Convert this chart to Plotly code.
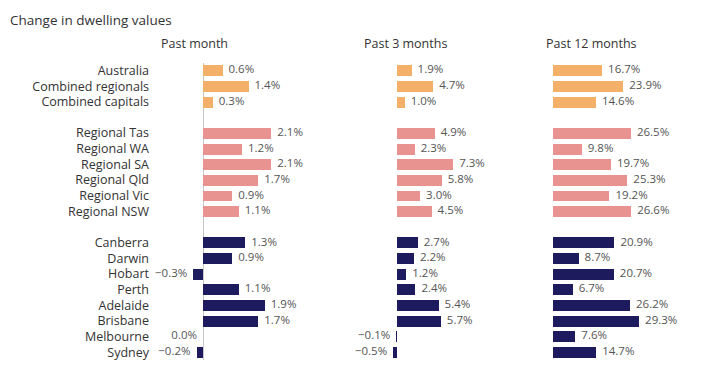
import plotly.graph_objects as go

# ---------------- data ----------------
categories = ["Australia", "Combined regionals", "Combined capitals",
              "Regional Tas", "Regional WA", "Regional SA", "Regional Qld", "Regional Vic", "Regional NSW",
              "Canberra", "Darwin", "Hobart", "Perth", "Adelaide", "Brisbane", "Melbourne", "Sydney"]
groups = ["national"] * 3 + ["regional"] * 6 + ["capital"] * 8
past_month = [0.6, 1.4, 0.3, 2.1, 1.2, 2.1, 1.7, 0.9, 1.1, 1.3, 0.9, -0.3, 1.1, 1.9, 1.7, 0.0, -0.2]
past_3_months = [1.9, 4.7, 1.0, 4.9, 2.3, 7.3, 5.8, 3.0, 4.5, 2.7, 2.2, 1.2, 2.4, 5.4, 5.7, -0.1, -0.5]
past_12_months = [16.7, 23.9, 14.6, 26.5, 9.8, 19.7, 25.3, 19.2, 26.6, 20.9, 8.7, 20.7, 6.7, 26.2, 29.3, 7.6, 14.7]
panel_titles = ["Past month", "Past 3 months", "Past 12 months"]
title = "Change in dwelling values"

# ---------------- styling / layout ----------------
OFF = 8                      # page body margin
W, H = 702 - 2 * OFF, 372 - 2 * OFF
group_colors = {"national": "#F4AF68", "regional": "#E89390", "capital": "#1D1B5E"}
group_offset = {"national": 0, "regional": 1, "capital": 2}
FONT = "Open Sans"

# row slots with blank gaps between groups
ypos = [i + group_offset[g] for i, g in enumerate(groups)]
colors = [group_colors[g] for g in groups]

# pixel geometry (screen coords) of each panel: (left px, right px, zero px, px per unit)
geoms = [(150, 292, 203, 32.5), (372, 525, 397, 7.7), (538, 694, 553, 2.94)]
title_x = [194, 405, 591]

def px_x(p):
    return (p - OFF) / W

def px_y(p):
    return 1 - (p - OFF) / H

def fmt(v):
    s = f"{abs(v):.1f}%"
    return ("\u2212" + s) if v < 0 else s

fig = go.Figure()
series = [past_month, past_3_months, past_12_months]
for i, vals in enumerate(series):
    xa = "x" if i == 0 else f"x{i+1}"
    fig.add_trace(go.Bar(x=vals, y=ypos, orientation="h", marker_color=colors,
                         marker_line_width=0, width=0.7, xaxis=xa, yaxis="y",
                         hoverinfo="skip", showlegend=False))
    fig.add_trace(go.Scatter(x=vals, y=ypos, mode="text",
                             text=[("  " + fmt(v)) if v > 0 else (fmt(v) + "  ") for v in vals],
                             textposition=["middle right" if v > 0 else "middle left" for v in vals],
                             textfont=dict(family=FONT, size=11.5, color="#555555"),
                             cliponaxis=False, xaxis=xa, yaxis="y",
                             hoverinfo="skip", showlegend=False))
    left, right, zero, scale = geoms[i]
    axis = dict(domain=[px_x(left), px_x(right)],
                range=[(left - zero) / scale, (right - zero) / scale],
                showgrid=False, showticklabels=False, ticks="", showline=False,
                zeroline=(i == 0), zerolinecolor="#c8c8c8", zerolinewidth=1,
                anchor="y", fixedrange=True)
    key = "xaxis" if i == 0 else f"xaxis{i+1}"
    fig.layout[key] = axis
    fig.add_annotation(text=panel_titles[i], x=px_x(title_x[i]), y=px_y(43),
                       xref="paper", yref="paper", showarrow=False,
                       xanchor="center", yanchor="middle",
                       font=dict(family=FONT, size=12.5, color="#333333"))

n_slots = max(ypos) + 1
top_px, bot_px = 62, 361
fig.update_layout(
    width=W, height=H,
    margin=dict(l=0, r=0, t=0, b=0),
    paper_bgcolor="white", plot_bgcolor="white",
    yaxis=dict(domain=[px_y(bot_px), px_y(top_px)],
               range=[n_slots - 0.5, -0.5],
               tickvals=ypos, ticktext=categories,
               tickfont=dict(family=FONT, size=12.5, color="#333333"),
               showgrid=False, zeroline=False, showline=False, ticks="",
               anchor="x", fixedrange=True),
    bargap=0,
)
fig.add_annotation(text=title, x=px_x(8), y=px_y(8), xref="paper", yref="paper",
                   showarrow=False, xanchor="left", yanchor="top",
                   font=dict(family=FONT, size=13.5, color="#333333"))

fig.write_html("out.html")
